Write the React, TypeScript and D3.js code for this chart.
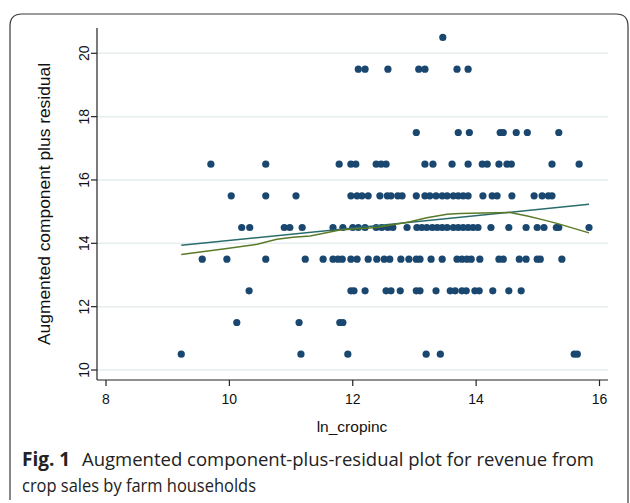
import React from 'react';
import * as d3 from 'd3';

// x positions (ln_cropinc) of the points in each row of the component-plus-residual
const row105 = [9.22, 11.16, 11.92, 13.19, 13.42, 15.59, 15.64];
const row115 = [10.12, 11.13, 11.79, 11.84];
const row125 = [10.32, 11.97, 12.02, 12.2, 12.54, 12.62, 12.77, 13.03, 13.09, 13.35, 13.58, 13.66, 13.77, 13.84, 13.98, 14.05, 14.27, 14.53, 14.73];
const row135 = [9.56, 9.96, 10.59, 11.23, 11.52, 11.68, 11.76, 11.83, 11.97, 12.07, 12.25, 12.39, 12.51, 12.6, 12.78, 12.91, 13.03, 13.09, 13.27, 13.45, 13.69, 13.77, 13.85, 13.92, 14.06, 14.37, 14.44, 14.7, 14.81, 14.99, 15.04, 15.39];
const row145 = [10.2, 10.33, 10.89, 10.98, 11.18, 11.68, 11.84, 12.0, 12.09, 12.2, 12.38, 12.47, 12.57, 12.65, 12.88, 13.04, 13.12, 13.2, 13.29, 13.37, 13.45, 13.53, 13.63, 13.71, 13.79, 13.87, 13.95, 14.03, 14.24, 14.53, 14.81, 14.99, 15.1, 15.3, 15.34, 15.83];
const row155 = [10.03, 10.59, 11.08, 11.97, 12.07, 12.15, 12.25, 12.44, 12.56, 12.62, 12.73, 12.8, 13.03, 13.17, 13.25, 13.35, 13.45, 13.53, 13.63, 13.71, 13.79, 13.87, 14.11, 14.26, 14.34, 14.58, 14.94, 15.07, 15.17, 15.23];
const row165 = [9.7, 10.59, 11.78, 11.97, 12.05, 12.38, 12.46, 12.54, 13.17, 13.3, 13.61, 13.87, 14.1, 14.18, 14.37, 14.5, 14.57, 15.23, 15.67];
const row175 = [13.03, 13.71, 13.89, 14.39, 14.44, 14.65, 14.83, 15.34];
const row195 = [12.09, 12.2, 12.57, 13.07, 13.17, 13.69, 13.87];
const row205 = [13.46];

const rows: [number, number[]][] = [
  [10.5, row105], [11.5, row115], [12.5, row125], [13.5, row135], [14.5, row145],
  [15.5, row155], [16.5, row165], [17.5, row175], [19.5, row195], [20.5, row205],
];

// linear fit end points and lowess curve
const fitX = [9.22, 15.83];
const fitY = [13.94, 15.23];
const lowessX = [9.22, 9.96, 10.45, 10.77, 11.03, 11.31, 11.79, 12.39, 12.93, 13.2, 13.53, 13.74, 14.1, 14.55, 14.83, 15.09, 15.31, 15.83];
const lowessY = [13.65, 13.84, 13.97, 14.13, 14.19, 14.23, 14.42, 14.5, 14.68, 14.81, 14.92, 14.94, 14.96, 14.97, 14.86, 14.74, 14.63, 14.33];

const xTicks = [8, 10, 12, 14, 16];
const yTicks = [10, 12, 14, 16, 18, 20];

const W = 630;
const H = 503;

export default function App() {
  const x = d3.scaleLinear().domain([8, 16]).range([106, 599.5]);
  const y = d3.scaleLinear().domain([10, 20]).range([370, 53.3]);

  const axisLeft = 97;
  const axisBottom = 380;
  const plotRight = 608;
  const plotTop = 28;

  const points = rows.flatMap(([lv, xs]) => xs.map((v) => ({ x: v, y: lv })));

  const line = d3.line<[number, number]>().x((d) => x(d[0])).y((d) => y(d[1]));
  const fitPath = line(fitX.map((v, i) => [v, fitY[i]]));
  const lowessPath = line(lowessX.map((v, i) => [v, lowessY[i]]));

  const axisFont = '"Liberation Sans", Arial, sans-serif';
  const capFont = '"Open Sans", "Noto Sans", sans-serif';

  return (
    <svg width={W} height={H} style={{ position: 'absolute', left: 0, top: 0, background: '#fff' }}>
      <path
        d={`M10,500 L10,26 Q10,14 22,14 L616,14 Q628,14 628,26 L628,503`}
        fill="none"
        stroke="#3a3a3a"
        strokeWidth={1.2}
      />
      {yTicks.map((t) => (
        <line key={'g' + t} x1={axisLeft} x2={plotRight} y1={y(t)} y2={y(t)} stroke="#e6eef0" strokeWidth={1.5} />
      ))}
      <line x1={axisLeft} x2={axisLeft} y1={plotTop} y2={axisBottom} stroke="#222" strokeWidth={1.2} />
      <line x1={axisLeft} x2={plotRight} y1={axisBottom} y2={axisBottom} stroke="#222" strokeWidth={1.2} />
      {yTicks.map((t) => (
        <g key={'yt' + t}>
          <line x1={axisLeft - 6} x2={axisLeft} y1={y(t)} y2={y(t)} stroke="#222" strokeWidth={1.2} />
          <text
            transform={`translate(${axisLeft - 8},${y(t)}) rotate(-90)`}
            textAnchor="middle"
            fontFamily={axisFont}
            fontSize={14}
            fill="#111"
          >
            {t}
          </text>
        </g>
      ))}
      {xTicks.map((t) => (
        <g key={'xt' + t}>
          <line x1={x(t)} x2={x(t)} y1={axisBottom} y2={axisBottom + 6} stroke="#222" strokeWidth={1.2} />
          <text x={x(t)} y={axisBottom + 24} textAnchor="middle" fontFamily={axisFont} fontSize={14} fill="#111">
            {t}
          </text>
        </g>
      ))}
      <text
        transform={`translate(50,204) rotate(-90)`}
        textAnchor="middle"
        fontFamily={axisFont}
        fontSize={16.5}
        textLength={282}
        lengthAdjust="spacingAndGlyphs"
        fill="#111"
      >
        Augmented component plus residual
      </text>
      <text x={352} y={432} textAnchor="middle" fontFamily={axisFont} fontSize={15.5} fill="#111">
        ln_cropinc
      </text>
      {points.map((p, i) => (
        <circle key={i} cx={x(p.x)} cy={y(p.y)} r={3.6} fill="#1a476f" />
      ))}
      <path d={fitPath || ''} fill="none" stroke="#2a6b6b" strokeWidth={1.5} />
      <path d={lowessPath || ''} fill="none" stroke="#5a7a28" strokeWidth={1.5} />
      <text x={22} y={466} fontFamily={capFont} fontSize={19} fontWeight="bold" fill="#222">
        Fig. 1
      </text>
      <text x={82} y={466} fontFamily={capFont} fontSize={18.5} fill="#222" textLength={512} lengthAdjust="spacingAndGlyphs">
        Augmented component-plus-residual plot for revenue from
      </text>
      <text x={22} y={492} fontFamily={capFont} fontSize={18.5} fill="#222" textLength={234} lengthAdjust="spacingAndGlyphs">
        crop sales by farm households
      </text>
    </svg>
  );
}
